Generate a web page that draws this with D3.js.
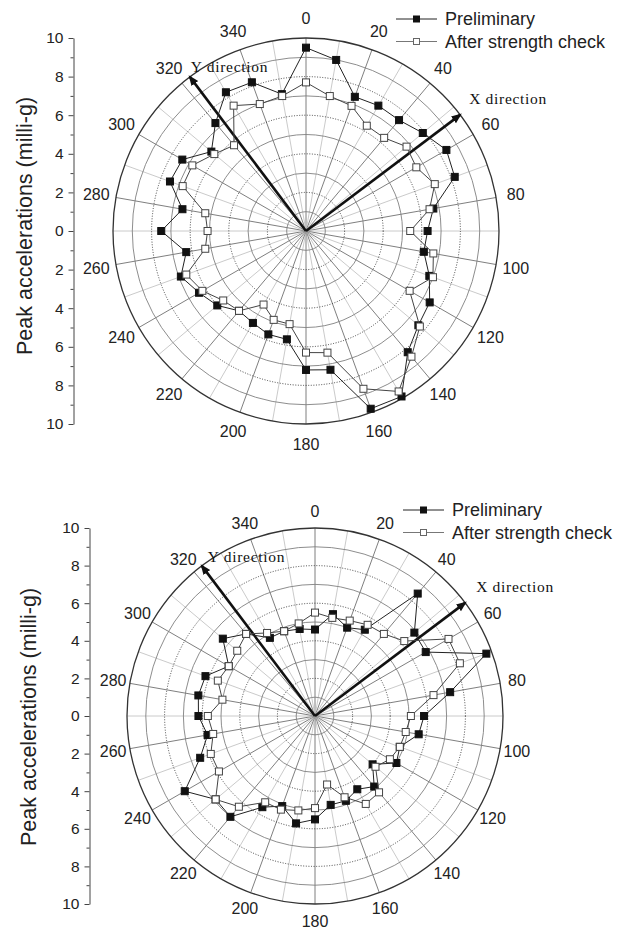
<!DOCTYPE html>
<html><head><meta charset="utf-8">
<script src="https://cdn.jsdelivr.net/npm/d3@7"></script>
<style>body{margin:0;background:#fff} svg{display:block}</style>
</head><body>
<svg id="c" width="620" height="930"></svg>
<script>
// ---- data ----
const angles = d3.range(0, 360, 10);            // measurement directions (deg)
const angleTickLabels = d3.range(0, 360, 20);   // angular tick labels
const radialTickLabels = [-10,-8,-6,-4,-2,0,2,4,6,8,10];
const radialMinorTicks = [-9,-7,-5,-3,-1,1,3,5,7,9];
const seriesNames = ["Preliminary", "After strength check"];
const directionNames = ["X direction", "Y direction"];
const directionAngles = [53, 323];
const axisTitle = "Peak accelerations (milli-g)";

// top chart
const topPrelim = [9.5,9.0,7.4,7.5,7.5,7.9,8.4,8.2,6.7,6.3,6.2,6.8,7.4,7.6,8.2,9.9,9.8,7.3,
                   7.2,5.7,5.7,5.5,5.4,6.0,6.4,6.9,6.3,7.5,6.5,7.5,7.4,6.4,7.3,8.3,8.2,7.2];
const topAfter  = [7.7,7.1,6.9,6.3,6.3,6.8,6.6,7.1,6.5,5.4,6.7,7.0,6.2,7.7,8.5,9.6,8.7,6.4,
                   6.3,4.9,4.9,4.4,5.4,5.6,6.2,6.6,5.3,5.1,5.3,6.8,6.8,6.2,5.8,7.5,7.0,7.1];
// bottom chart
const botPrelim = [4.6,5.5,5.0,5.3,8.5,6.9,6.8,9.7,7.3,5.8,5.6,4.8,5.0,4.0,4.9,4.5,4.8,4.8,
                   5.5,5.8,5.1,5.6,7.0,6.9,8.0,6.5,5.8,6.2,6.3,6.2,5.3,6.4,5.7,4.8,4.8,4.7];
const botAfter  = [5.5,5.3,5.4,5.6,5.7,6.2,8.2,8.2,6.4,5.1,4.9,4.8,4.6,4.2,5.3,5.4,4.6,3.7,
                   4.9,5.1,5.3,5.3,6.3,6.9,5.9,5.9,5.5,5.7,5.0,5.5,5.3,5.4,5.7,5.1,4.8,5.0];

// ---- layout ----
const charts = [
  {cx:306, cy:231, R:193, labOff:20, axisX:73.5, titleX:32, titleY:226,
   legX:396, legY:19, prelim:topPrelim, after:topAfter,
   dirOff:[[9,-11],[1,-5]]},
  {cx:315, cy:716, R:188, labOff:17, axisX:89.5, titleX:36, titleY:717,
   legX:403, legY:510, prelim:botPrelim, after:botAfter,
   dirOff:[[11,-11],[6,-4]]}
];

const svg = d3.select("#c");
const defs = svg.append("defs");
defs.append("marker").attr("id","arr").attr("viewBox","0 0 10 10")
  .attr("refX",8).attr("refY",5).attr("markerWidth",4).attr("markerHeight",4)
  .attr("orient","auto").attr("markerUnits","strokeWidth")
  .append("path").attr("d","M0,1 L10,5 L0,9 Z").attr("fill","#111");

const sans = "'Liberation Sans', Arial, sans-serif";
const serif = "'Liberation Serif', 'Times New Roman', serif";
const rad = d => d * Math.PI / 180;

charts.forEach(cfg => {
  const g = svg.append("g");
  const r = d3.scaleLinear().domain([0,10]).range([0,cfg.R]);
  const pt = (a, v) => [cfg.cx + r(v)*Math.sin(rad(a)), cfg.cy - r(v)*Math.cos(rad(a))];
  const grid = g.append("g");

  // spokes
  angles.forEach(a => {
    const [x,y] = pt(a, 10);
    grid.append("line").attr("x1",cfg.cx).attr("y1",cfg.cy).attr("x2",x).attr("y2",y)
      .attr("stroke", a % 20 === 0 ? "#707070" : "#c4c4c4").attr("stroke-width",0.9);
  });
  // circles
  d3.range(1,10).forEach(v => {
    const c = grid.append("circle").attr("cx",cfg.cx).attr("cy",cfg.cy).attr("r",r(v))
      .attr("fill","none");
    if (v % 2 === 1) c.attr("stroke","#808080").attr("stroke-width",0.9);
    else c.attr("stroke","#333").attr("stroke-width",0.9).attr("stroke-dasharray","1,1.6");
  });
  grid.append("circle").attr("cx",cfg.cx).attr("cy",cfg.cy).attr("r",r(10))
    .attr("fill","none").attr("stroke","#333").attr("stroke-width",1.3);

  // angle labels
  angleTickLabels.forEach(a => {
    const [x,y] = pt(a, 10 + cfg.labOff/cfg.R*10);
    g.append("text").attr("x",x).attr("y",y).attr("dy","0.36em")
      .attr("text-anchor","middle").attr("font-family",sans).attr("font-size",16)
      .attr("fill","#222").text(a);
  });

  // direction arrows
  directionAngles.forEach((a,i) => {
    const [x,y] = pt(a, 10);
    g.append("line").attr("x1",cfg.cx).attr("y1",cfg.cy).attr("x2",x).attr("y2",y)
      .attr("stroke","#111").attr("stroke-width",2.6).attr("marker-end","url(#arr)");
    g.append("text").attr("x", x + cfg.dirOff[i][0]).attr("y", y + cfg.dirOff[i][1])
      .attr("font-family",serif).attr("font-size",15.5).attr("letter-spacing","0.7px")
      .attr("fill","#111").text(directionNames[i]);
  });

  // series
  const line = d3.lineRadial().angle((d,i) => rad(angles[i])).radius(d => r(d))
    .curve(d3.curveLinearClosed);
  const drawSeries = (vals, filled) => {
    const s = g.append("g").attr("transform",`translate(${cfg.cx},${cfg.cy})`);
    s.append("path").attr("d", line(vals)).attr("fill","none")
      .attr("stroke", filled ? "#222" : "#444").attr("stroke-width",1);
    vals.forEach((v,i) => {
      const [x,y] = pt(angles[i], v);
      s.append("rect").attr("x",x-cfg.cx-3.5).attr("y",y-cfg.cy-3.5)
        .attr("width",7).attr("height",7)
        .attr("fill", filled ? "#111" : "#fff")
        .attr("stroke", filled ? "#111" : "#444").attr("stroke-width",1);
    });
  };
  drawSeries(cfg.prelim, true);
  drawSeries(cfg.after, false);

  // left axis
  const y = d3.scaleLinear().domain([-10,10]).range([cfg.cy + cfg.R, cfg.cy - cfg.R]);
  const ax = g.append("g").attr("transform",`translate(${cfg.axisX},0)`)
    .call(d3.axisLeft(y).tickValues(radialTickLabels).tickFormat(d => Math.abs(d))
      .tickSize(5).tickPadding(5).tickSizeOuter(0));
  ax.selectAll("text").attr("font-family",sans).attr("font-size",15.5).attr("fill","#222");
  ax.selectAll("line,path").attr("stroke","#444");
  const axm = g.append("g").attr("transform",`translate(${cfg.axisX},0)`)
    .call(d3.axisLeft(y).tickValues(radialMinorTicks).tickFormat("").tickSize(3).tickSizeOuter(0));
  axm.select(".domain").remove();
  axm.selectAll("line").attr("stroke","#444");

  g.append("text").attr("transform",`translate(${cfg.titleX},${cfg.titleY}) rotate(-90)`)
    .attr("text-anchor","middle").attr("font-family",sans).attr("font-size",21.5)
    .attr("fill","#222").text(axisTitle);

  // legend
  seriesNames.forEach((n,i) => {
    const ly = cfg.legY + i*22.5;
    const lg = g.append("g");
    lg.append("line").attr("x1",cfg.legX).attr("x2",cfg.legX+41).attr("y1",ly).attr("y2",ly)
      .attr("stroke", i===0 ? "#222" : "#777").attr("stroke-width",1);
    lg.append("rect").attr("x",cfg.legX+20.5-3).attr("y",ly-3).attr("width",6).attr("height",6)
      .attr("fill", i===0 ? "#111" : "#fff").attr("stroke", i===0 ? "#111" : "#666");
    lg.append("text").attr("x",cfg.legX+49).attr("y",ly).attr("dy","0.36em")
      .attr("font-family",sans).attr("font-size",18).attr("fill","#222").text(n);
  });
});
</script>
</body></html>
